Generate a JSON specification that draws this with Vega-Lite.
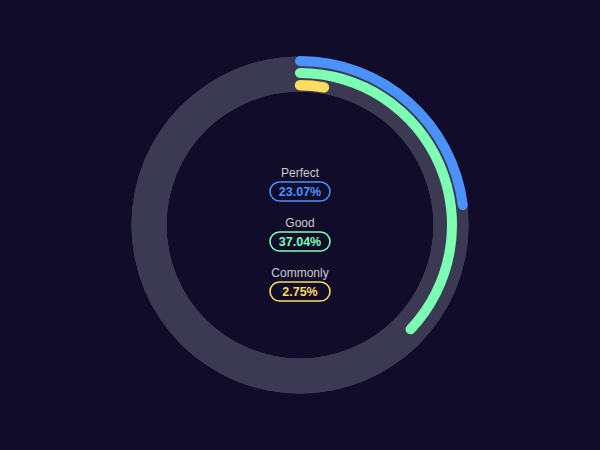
{
  "$schema": "https://vega.github.io/schema/vega-lite/v6.json",
  "width": 600,
  "height": 450,
  "autosize": {"type": "fit", "contains": "padding"},
  "padding": 0,
  "background": "#100c2a",
  "config": {"view": {"stroke": null}, "font": "Liberation Sans"},
  "data": {
    "values": [
      {"category": "Perfect", "value": 23.07, "label": "23.07%"},
      {"category": "Good", "value": 37.04, "label": "37.04%"},
      {"category": "Commonly", "value": 2.75, "label": "2.75%"}
    ]
  },
  "layer": [
    {
      "mark": {"type": "arc", "theta": 0, "theta2": 6.2832, "radius": 168.5, "radius2": 133.5, "color": "#3c3952"},
      "encoding": {}
    },
    {
      "transform": [{"filter": "datum.category === 'Perfect'"}],
      "mark": {"type": "arc", "radius": 169, "radius2": 159, "cornerRadius": 5, "thetaOffset": 0.0305, "theta2Offset": -0.0305},
      "encoding": {
        "theta": {"field": "value", "type": "quantitative", "scale": {"domain": [0, 100], "range": [0, 6.2832]}, "stack": null},
        "theta2": {"datum": 0},
        "color": {"field": "category", "type": "nominal", "scale": {"domain": ["Perfect", "Good", "Commonly"], "range": ["#4992ff", "#7cffb2", "#fddd60"]}, "legend": null}
      }
    },
    {
      "transform": [{"filter": "datum.category === 'Good'"}],
      "mark": {"type": "arc", "radius": 157, "radius2": 147, "cornerRadius": 5, "thetaOffset": 0.033, "theta2Offset": -0.033},
      "encoding": {
        "theta": {"field": "value", "type": "quantitative", "scale": {"domain": [0, 100], "range": [0, 6.2832]}, "stack": null},
        "theta2": {"datum": 0},
        "color": {"field": "category", "type": "nominal", "scale": {"domain": ["Perfect", "Good", "Commonly"], "range": ["#4992ff", "#7cffb2", "#fddd60"]}, "legend": null}
      }
    },
    {
      "transform": [{"filter": "datum.category === 'Commonly'"}],
      "mark": {"type": "arc", "radius": 145, "radius2": 134.5, "cornerRadius": 5.25, "thetaOffset": 0.037, "theta2Offset": -0.037},
      "encoding": {
        "theta": {"field": "value", "type": "quantitative", "scale": {"domain": [0, 100], "range": [0, 6.2832]}, "stack": null},
        "theta2": {"datum": 0},
        "color": {"field": "category", "type": "nominal", "scale": {"domain": ["Perfect", "Good", "Commonly"], "range": ["#4992ff", "#7cffb2", "#fddd60"]}, "legend": null}
      }
    },
    {
      "mark": {"type": "text", "fontSize": 12, "color": "#cccccc", "baseline": "middle", "align": "center"},
      "encoding": {
        "y": {"field": "category", "type": "nominal", "scale": {"type": "point", "domain": ["Perfect", "Good", "Commonly"], "range": [173, 273], "padding": 0}, "axis": null},
        "text": {"field": "category"}
      }
    },
    {
      "mark": {"type": "point", "filled": false, "strokeWidth": 1.6, "opacity": 1, "size": 3600, "yOffset": 18.5,
        "shape": "M-0.6833,-0.3167 L0.6833,-0.3167 A0.3167,0.3167 0 0 1 0.6833,0.3167 L-0.6833,0.3167 A0.3167,0.3167 0 0 1 -0.6833,-0.3167 Z"},
      "encoding": {
        "y": {"field": "category", "type": "nominal", "scale": {"type": "point", "domain": ["Perfect", "Good", "Commonly"], "range": [173, 273], "padding": 0}, "axis": null},
        "color": {"field": "category", "type": "nominal", "scale": {"domain": ["Perfect", "Good", "Commonly"], "range": ["#4992ff", "#7cffb2", "#fddd60"]}, "legend": null}
      }
    },
    {
      "mark": {"type": "text", "fontSize": 12.5, "fontWeight": "bold", "baseline": "middle", "align": "center", "dy": 18.5},
      "encoding": {
        "y": {"field": "category", "type": "nominal", "scale": {"type": "point", "domain": ["Perfect", "Good", "Commonly"], "range": [173, 273], "padding": 0}, "axis": null},
        "text": {"field": "label"},
        "color": {"field": "category", "type": "nominal", "scale": {"domain": ["Perfect", "Good", "Commonly"], "range": ["#4992ff", "#7cffb2", "#fddd60"]}, "legend": null}
      }
    }
  ]
}
